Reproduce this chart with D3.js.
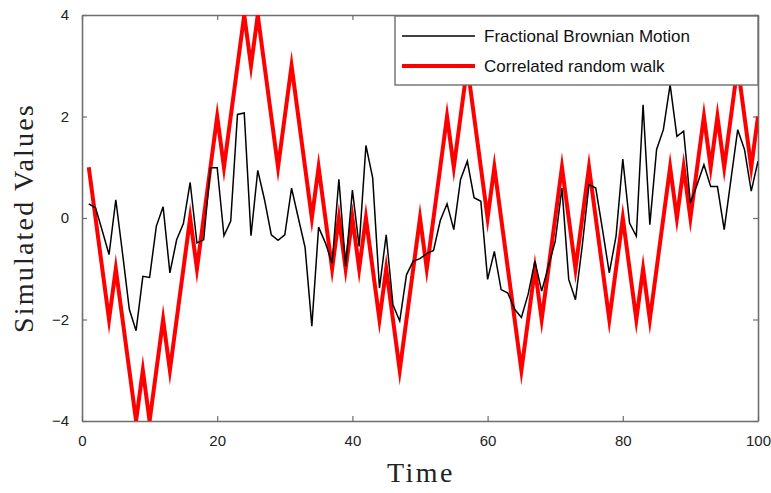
<!DOCTYPE html>
<html>
<head>
<meta charset="utf-8">
<script src="https://cdn.jsdelivr.net/npm/d3@7"></script>
<style>
  html, body { margin: 0; padding: 0; background: #fff; }
  svg { display: block; }
</style>
</head>
<body>
<svg id="chart" width="771" height="493"></svg>
<script>
const timeSteps = d3.range(1, 101);
const fbmValues = [0.28, 0.20, -0.25, -0.72, 0.36, -0.70, -1.80, -2.22, -1.15, -1.17,
  -0.16, 0.22, -1.08, -0.43, -0.11, 0.70, -0.49, -0.43, 0.99, 0.99,
  -0.35, -0.06, 2.04, 2.07, -0.35, 0.94, 0.36, -0.33, -0.44, -0.33,
  0.59, 0.00, -0.58, -2.13, -0.18, -0.49, -0.89, 0.76, -0.95, 0.55,
  -0.56, 1.43, 0.79, -1.38, -0.33, -1.71, -2.03, -1.12, -0.85, -0.80,
  -0.70, -0.64, -0.05, 0.28, -0.23, 0.76, 1.12, 0.40, 0.33, -1.21,
  -0.66, -1.41, -1.48, -1.80, -1.96, -1.50, -0.85, -1.44, -0.95, -0.46,
  0.59, -1.21, -1.61, -0.55, 0.66, 0.59, -0.23, -1.08, -0.36, 1.16,
  -0.10, -0.36, 2.23, -0.13, 1.35, 1.74, 2.63, 1.61, 1.71, 0.30,
  0.66, 1.05, 0.62, 0.62, -0.23, 0.76, 1.74, 1.35, 0.53, 1.12];
const crwValues = [1, 0, -1, -2, -1, -2, -3, -4, -3, -4,
  -3, -2, -3, -2, -1, 0, -1, 0, 1, 2,
  1, 2, 3, 4, 3, 4, 3, 2, 1, 2,
  3, 2, 1, 0, 1, 0, -1, 0, -1, 0,
  -1, 0, -1, -2, -1, -2, -3, -2, -1, 0,
  -1, 0, 1, 2, 1, 2, 3, 2, 1, 0,
  1, 0, -1, -2, -3, -2, -1, -2, -1, 0,
  1, 0, -1, 0, 1, 0, -1, -2, -1, 0,
  -1, -2, -1, -2, -1, 0, 1, 0, 1, 0,
  1, 2, 1, 2, 1, 2, 3, 2, 1, 2];
const xTicks = [0, 20, 40, 60, 80, 100];
const yTicks = [-4, -2, 0, 2, 4];
const seriesNames = ["Fractional Brownian Motion", "Correlated random walk"];
const xTitle = "Time";
const yTitle = "Simulated Values";

const svg = d3.select("#chart");
const m = { left: 82, right: 13, top: 15, bottom: 72 };
const W = 771, H = 493;
const iw = W - m.left - m.right, ih = H - m.top - m.bottom;

const x = d3.scaleLinear().domain([0, 100]).range([m.left, m.left + iw]);
const y = d3.scaleLinear().domain([-4, 4]).range([m.top + ih, m.top]);

const g = svg.append("g");

svg.append("defs").append("clipPath").attr("id", "clip")
  .append("rect").attr("x", m.left).attr("y", m.top).attr("width", iw).attr("height", ih);

const axisColor = "#6e6e6e";
const tickFont = "'Liberation Sans', Arial, sans-serif";

const xAxisB = d3.axisBottom(x).tickValues(xTicks).tickSizeInner(-5).tickSizeOuter(0).tickPadding(14);
const xAxisT = d3.axisTop(x).tickValues(xTicks).tickSizeInner(-5).tickSizeOuter(0).tickFormat("");
const yAxisL = d3.axisLeft(y).tickValues(yTicks).tickSizeInner(-5).tickSizeOuter(0).tickPadding(13);
const yAxisR = d3.axisRight(y).tickValues(yTicks).tickSizeInner(-5).tickSizeOuter(0).tickFormat("");

function styleAxis(sel) {
  sel.selectAll("path").attr("stroke", axisColor).attr("stroke-width", 1.6);
  sel.selectAll("line").attr("stroke", axisColor).attr("stroke-width", 1.2);
  sel.selectAll("text").attr("fill", "#222").style("font-family", tickFont).style("font-size", "15px");
}
g.append("g").attr("transform", `translate(0,${m.top + ih})`).call(xAxisB).call(styleAxis);
g.append("g").attr("transform", `translate(0,${m.top})`).call(xAxisT).call(styleAxis);
g.append("g").attr("transform", `translate(${m.left},0)`).call(yAxisL).call(styleAxis);
g.append("g").attr("transform", `translate(${m.left + iw},0)`).call(yAxisR).call(styleAxis);

const line = (vals) => d3.line().x((d, i) => x(timeSteps[i])).y(d => y(d))(vals);
const plot = svg.append("g").attr("clip-path", "url(#clip)");
plot.append("path").attr("d", line(crwValues)).attr("fill", "none")
  .attr("stroke", "#ff0000").attr("stroke-width", 4).attr("stroke-linejoin", "miter").attr("stroke-miterlimit", 10);
plot.append("path").attr("d", line(fbmValues)).attr("fill", "none")
  .attr("stroke", "#000").attr("stroke-width", 1.5).attr("stroke-linejoin", "miter");

const lg = svg.append("g");
const lx0 = 395, ly0 = 16, lx1 = m.left + iw, ly1 = 85;
lg.append("rect").attr("x", lx0).attr("y", ly0).attr("width", lx1 - lx0).attr("height", ly1 - ly0)
  .attr("fill", "#fff").attr("stroke", axisColor).attr("stroke-width", 1.4);
const rows = [{ y: 36, color: "#000", w: 1.5 }, { y: 66, color: "#ff0000", w: 4 }];
rows.forEach((r, i) => {
  lg.append("line").attr("x1", 402).attr("x2", 475).attr("y1", r.y).attr("y2", r.y)
    .attr("stroke", r.color).attr("stroke-width", r.w);
  lg.append("text").attr("x", 484).attr("y", r.y).attr("dy", "0.35em")
    .style("font-family", tickFont).style("font-size", "17px").attr("fill", "#111")
    .text(seriesNames[i]);
});

const titleFont = "'Liberation Serif', 'Times New Roman', serif";
svg.append("text").attr("x", m.left + iw / 2 + 1).attr("y", 482).attr("text-anchor", "middle")
  .style("font-family", titleFont).style("font-size", "28px").style("letter-spacing", "2.5px")
  .attr("fill", "#222").text(xTitle);
svg.append("text").attr("transform", `translate(33,${m.top + ih / 2}) rotate(-90)`)
  .attr("text-anchor", "middle")
  .style("font-family", titleFont).style("font-size", "28px").style("letter-spacing", "2.2px")
  .attr("fill", "#222").text(yTitle);
</script>
</body>
</html>
